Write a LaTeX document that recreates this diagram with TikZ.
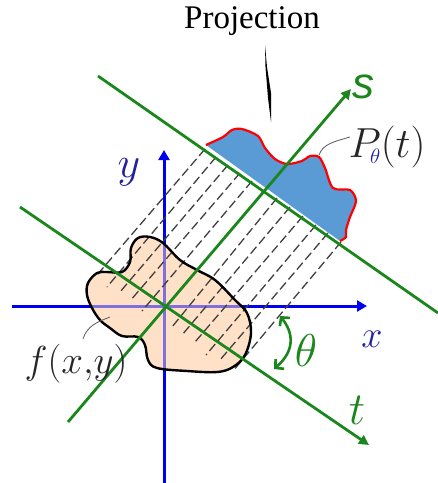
\RequirePackage{fix-cm}
\documentclass[tikz,border=0pt]{standalone}
\usepackage{fontspec}
\setmainfont{Liberation Serif}
\newfontfamily\sansf{Liberation Sans}
\usetikzlibrary{arrows.meta}
\definecolor{gr}{HTML}{1B861B}
\definecolor{bl}{HTML}{0000F0}
\definecolor{txtbl}{HTML}{22229A}
\definecolor{peach}{HTML}{FFE1C8}
\definecolor{proj}{HTML}{5B9BD5}
\definecolor{purp}{HTML}{8070DC}
\tikzset{
 greenline/.style={draw=gr,line width=2.8pt},
 blueline/.style={draw=bl,line width=3pt},
 hatchline/.style={draw=black!75,line width=1.3pt,dash pattern=on 9pt off 4pt},
 leader/.style={draw=black!65,line width=0.8pt},
 lab/.style={inner sep=0pt,outer sep=0pt,anchor=center},
}
\begin{document}
\begin{tikzpicture}[x=1pt,y=-1pt]
\useasboundingbox (0,0) rectangle (438,483);
\coordinate (O) at (165,306);
\coordinate (xa) at (12,306);
\coordinate (xb) at (367,306);
\coordinate (ya) at (164,483);
\coordinate (yb) at (164,150);
\coordinate (sa) at (68,422);
\coordinate (sb) at (351,89);
\coordinate (ta) at (20,207);
\coordinate (tb) at (369,445);
\coordinate (ua) at (98,76);
\coordinate (ub) at (438,313);
% axes
\draw[blueline,-{Triangle[length=10pt,width=11pt]}] (xa) -- (xb);
\draw[blueline,-{Triangle[length=10pt,width=11pt]}] (ya) -- (yb);
% object
\def\blob{plot[smooth cycle,tension=0.6] coordinates {(97,273)(88,283)(87,295)(92,308)(100,320)(110,328)(122,336)(138,337)(145,345)(148,360)(157,368)(187,371)(217,372)(233,367)(245,355)(251,333)(247,313)(235,300)(215,280)(197,270)(180,260)(163,243)(150,237)(138,238)(131,248)(130,262)(122,272)(107,272)}}
\fill[peach] \blob;
\begin{scope}
\clip \blob;
\draw[draw=purp,line width=3pt] (xa) -- (xb);
\draw[draw=purp,line width=3pt] (ya) -- (yb);
\end{scope}
% projection rays
\foreach \a/\b/\c/\d in {205/149/97/275,216/157/107/287,228/165/120/292,240/173/130/301,252/181/142/311,277/198/172/327,290/207/182/335,303/216/195/342,316/225/206/355,328/233/220/360,341/242/233/371}
  \draw[hatchline] (\a,\b) -- (\c,\d);
\draw[black,line width=2.4pt] \blob;
% projection profile
\fill[proj] plot[smooth,tension=0.5] coordinates {(206,145)(223,137)(232,130)(242,129)(258,136)(265,148)(275,159)(287,164)(302,161)(310,156)(319,157)(325,168)(333,188)(350,190)(356,201)(350,217)(346,230)(346,237)(340,241)} -- cycle;
\draw[red,line width=2.2pt] plot[smooth,tension=0.5] coordinates {(206,145)(223,137)(232,130)(242,129)(258,136)(265,148)(275,159)(287,164)(302,161)(310,156)(319,157)(325,168)(333,188)(350,190)(356,201)(350,217)(346,230)(346,237)(340,241)};
% rotated axes
\draw[greenline] (ua) -- (ub);
\draw[greenline,-{Triangle[length=10pt,width=10pt]}] (sa) -- (sb);
\draw[greenline,-{Triangle[length=10pt,width=10pt]}] (ta) -- (tb);
% angle
\coordinate (tha) at (280,316);
\coordinate (thb) at (274,369);
\draw[draw=gr,line width=2.6pt,{Straight Barb[length=6pt,width=13pt]}-{Straight Barb[length=6pt,width=13pt]}] (tha) .. controls (293,332) and (296,350) .. (thb);
% pointer to projection
\fill[black] (265,45) -- (267,67) -- (271,93) -- (271,122) -- (268,98) -- (265.5,67) -- cycle;
% leaders
\coordinate (pa) at (319,155);
\coordinate (pb) at (350,137);
\coordinate (fa) at (83,339);
\coordinate (fb) at (110,317);
\draw[leader] (pa) .. controls (323,144) and (333,142) .. (pb);
\draw[leader] (fa) .. controls (87,326) and (97,322) .. (fb);
% labels
\node[lab,font=\fontsize{33}{33}\selectfont] (ptitle) at (252,21) {Projection};
\node[lab,text=gr,font=\fontsize{44}{44}\sansf\itshape] (slabel) at (363,87) {s};
\node[lab,text=txtbl] (ylabel) at (129,172) {\fontsize{44}{44}\selectfont$y$};
\node[lab,text=txtbl] (xlabel) at (372,339) {\fontsize{38}{38}\selectfont$x$};
\node[lab,text=gr] (thlabel) at (306,351) {\fontsize{46}{46}\selectfont$\theta$};
\node[lab,text=gr] (tlabel) at (357,410) {\fontsize{46}{46}\selectfont$t$};
\node[lab,text=black!85] (plabel) at (387,147) {\fontsize{42}{42}\selectfont$P_{\!\scriptscriptstyle\textcolor{txtbl}{\theta}}(t)$};
\node[lab,text=black!85] (flabel) at (76,364) {\fontsize{39}{39}\selectfont$f(x{,}y)$};
\end{tikzpicture}
\end{document}
